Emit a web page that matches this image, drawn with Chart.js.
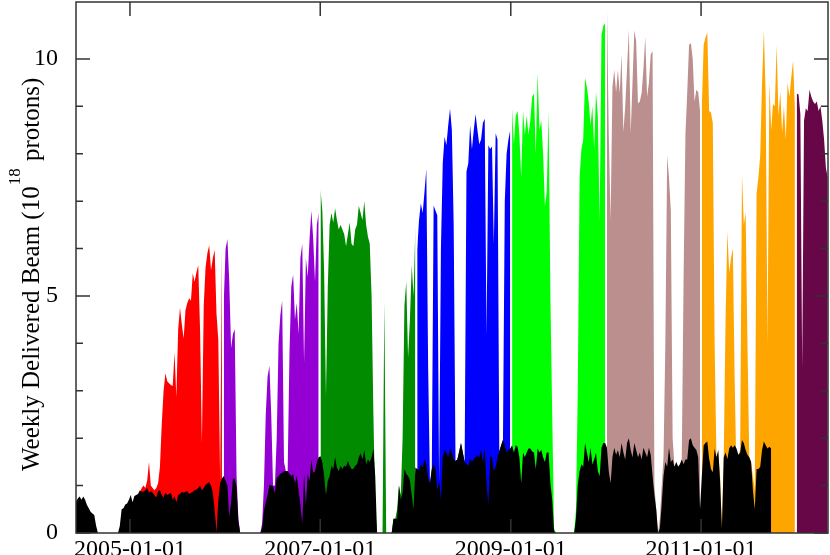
<!DOCTYPE html>
<html>
<head>
<meta charset="utf-8">
<title>Weekly Delivered Beam</title>
<script src="https://cdn.jsdelivr.net/npm/chart.js@4.4.1/dist/chart.umd.min.js"></script>
<style>
  html, body { margin: 0; padding: 0; background: #fff; }
  #chart { display: block; }
</style>
</head>
<body>
<canvas id="chart" width="830" height="555"></canvas>
<script>
// weekly series, week 0 = firstWeek
const firstWeek = '2004-06-08';
const axisStart = '2004-06-08';
const axisEnd = '2012-05-02';
const xTickLabels = ['2005-01-01', '2007-01-01', '2009-01-01', '2011-01-01'];
const yTickLabels = [0, 5, 10];

// black series (weeks 0..381)
const beamBlack = [
  0.66, 0.73, 0.77, 0.7, 0.77, 0.7, 0.59, 0.52, 0.45, 0.41, 0.38, 0.16,
  0, 0, 0, 0, 0, 0, 0, 0, 0, 0, 0, 0,
  0.15, 0.5, 0.52, 0.6, 0.62, 0.7, 0.8, 0.65, 0.78, 0.8, 0.82, 0.9,
  0.87, 0.87, 0.9, 0.95, 0.85, 0.88, 0.85, 0.8, 0.75, 0.88, 0.9, 0.8,
  0.75, 0.85, 0.8, 0.82, 0.85, 0.7, 0.78, 0.65, 0.8, 0.82, 0.87, 0.85,
  0.87, 0.88, 0.82, 0.85, 0.87, 0.9, 0.92, 0.95, 1.0, 0.9, 0.95, 1.02,
  1.05, 1.07, 1.0, 0.85, 0.5, 0.02, 0.7, 1.05, 1.15, 1.2, 1.1, 1.0,
  0.35, 0.65, 1.15, 1.15, 0.95, 0.25,
  0, 0, 0, 0, 0, 0, 0, 0, 0, 0, 0, 0,
  0.1, 0.47, 0.65, 0.8, 1.02, 1.0, 0.98, 0.84, 1.16, 1.2, 1.25, 1.27,
  1.3, 1.31, 1.3, 1.25, 1.2, 1.24, 1.05, 1.2, 0.9, 0.6, 0.2, 1.24,
  0.6, 1.24, 1.1, 1.55, 1.27, 1.3, 1.5, 1.6,
  1.62, 1.5, 1.2, 0.8, 1.1, 1.2, 1.42, 1.35, 1.6, 1.38, 1.3, 1.42,
  1.35, 1.42, 1.4, 1.52, 1.42, 1.35, 1.35, 1.42, 1.45, 1.6, 1.68, 1.55,
  1.75, 1.45, 1.55, 1.5, 1.6, 1.78, 1.2, 0,
  0, 0, 0, 0, 0, 0, 0, 0,
  0.3, 0.3, 0.3, 1.0, 0.7, 0.85, 1.35, 1.25, 1.2, 1.12, 0.8, 0.5,
  1.38, 1.35, 1.33, 1.45, 1.38, 1.55, 1.45, 1.15, 1.05, 1.35, 1.45, 1.35,
  0.9, 1.1, 0.7, 1.6, 1.75, 1.7, 1.6, 1.78, 1.7, 1.55, 1.52, 1.55,
  1.72, 1.9, 1.7, 1.5, 1.45, 1.42, 1.56, 1.5, 1.56, 1.6, 1.64, 1.6,
  1.75, 1.5, 1.82, 1.05, 0.6, 1.62, 1.6, 1.3, 1.4, 1.6, 1.72, 1.85,
  1.96, 1.85, 1.7, 1.75, 1.78, 1.85, 1.7, 1.85, 1.82, 1.6, 1.05, 1.7,
  1.6, 1.7, 1.78, 1.78, 1.72, 1.7, 1.35, 1.78, 1.7, 1.75, 1.6, 1.5,
  1.7, 1.7, 1.05, 0.7, 0.05,
  0, 0, 0, 0, 0, 0, 0, 0, 0, 0, 0,
  0.3, 1.0, 1.3, 1.45, 1.4, 1.9, 1.7, 1.5, 1.8, 1.45, 1.55, 1.7,
  1.3, 1.2, 1.8, 1.9, 1.9, 1.8, 1.3, 1.05, 1.6, 1.8, 1.65, 1.75,
  1.6, 1.9, 1.7, 1.55, 1.9, 2.0, 1.75, 1.6, 1.9, 1.75, 1.6, 1.7,
  1.55, 1.8, 1.7, 1.6, 1.8, 1.65, 1.2, 0.8, 0.5, 0, 0.1, 0.6,
  1.2, 1.5, 1.4, 1.8, 1.5, 1.55, 1.4, 1.5, 1.4, 1.45, 1.55, 1.45,
  1.55, 1.55, 1.96, 2.0, 1.85, 1.8, 1.75, 1.6, 0.5, 1.2, 1.85, 1.9,
  1.93, 1.57, 1.35, 1.28, 1.78, 1.6, 1.75, 1.1, 0.1, 1.6, 1.7, 1.56,
  1.78, 1.85, 1.8, 1.85, 1.78, 1.65, 1.7, 1.96, 1.9, 1.75, 1.65, 1.6,
  1.5, 0.9, 0.5, 1.35, 1.35, 1.4, 1.75, 1.93, 1.85, 1.78, 1.82, 1.78
];

// total per run (one colour per run)
const run2005 = [
  0.7, 0.6, 0.75, 0.78, 0.8, 0.85,
  0.95, 1.0, 0.95, 1.1, 1.5, 1.0, 0.95, 0.9, 0.95, 1.05, 1.4, 2.3,
  3.0, 3.37, 3.2, 3.16, 3.12, 3.1, 3.8, 2.87, 4.3, 4.75, 4.4, 4.1,
  4.7, 4.85, 4.95, 4.9, 5.48, 5.3, 5.5, 5.65, 4.28, 1.9, 4.8, 5.6,
  5.9, 6.07, 5.54, 5.8, 5.97, 4.63, 4.07, 1.1, 6.04
];
const run2006 = [
  4.9, 6.0, 6.2, 5.3, 3.9, 4.2, 4.3, 1.2, 0.3,
  0, 0, 0, 0, 0, 0, 0, 0, 0, 0, 0, 0,
  0.2, 1.0, 2.5, 3.3, 3.53, 2.5, 1.0, 1.0, 2.0, 4.0, 4.6, 4.9,
  1.5, 1.31, 1.3, 3.8, 5.2, 5.45, 4.5, 4.85, 4.2, 5.8, 6.1, 3.6,
  5.8, 5.4, 6.2, 6.8, 6.2, 5.3, 6.5, 6.76
];
const run2007 = [
  7.24, 6.8, 5.5, 2.9, 5.2, 6.5, 6.75, 6.55, 6.85, 6.6, 6.4, 6.5,
  6.4, 6.3, 6.05, 6.3, 6.55, 6.1, 6.05, 6.4, 6.5, 6.9, 6.75, 6.6,
  7.0, 6.5, 6.25, 6.1, 5.0, 2.5, 0.5, 0,
  0, 0, 0, 4.87, 0, 0, 0, 0,
  0.3, 0.3, 0.5, 1.0, 0.8, 2.0, 4.8, 5.3, 3.7, 4.5, 5.65, 5.0, 6.49
];
const run2008 = [
  5.97, 6.6, 6.95, 6.75, 7.2, 7.67, 3.5, 1.05, 1.35, 6.91, 6.8, 6.7,
  1.1, 6.0, 7.8, 8.36, 8.18, 8.6, 8.95, 8.5, 6.5, 1.52, 1.55, 1.72,
  1.9, 1.7, 1.5, 7.62, 7.8, 8.6, 8.1, 8.5, 8.84, 8.5, 8.2, 8.3,
  8.65, 8.74, 4.17, 8.18, 8.1, 8.15, 6.1, 8.43, 8.3, 1.72, 1.85, 1.96,
  7.0, 8.0, 8.3, 8.5
];
const run2009 = [
  8.96, 8.2, 8.8, 8.9, 8.4, 7.5, 8.9, 8.4, 8.8, 8.4, 8.7, 9.2,
  9.27, 8.0, 9.7, 8.5, 8.7, 8.0, 6.9, 7.2, 8.9, 5.0, 2.5, 0.1,
  0, 0, 0, 0, 0, 0, 0, 0, 0, 0, 0, 0.5,
  3.0, 7.5, 8.1, 8.3, 9.6, 9.4, 9.1, 8.6, 9.0, 8.1, 9.3, 8.8,
  6.6, 10.5, 10.7, 10.75
];
const run2010 = [
  11.07, 8.4, 6.6, 9.4, 9.77, 9.3, 9.77, 9.28, 10.1, 8.46, 9.0, 9.8,
  10.62, 8.43, 9.5, 10.6, 10.38, 9.06, 9.1, 9.28, 9.8, 10.46, 9.2, 9.5,
  10.1, 10.16, 1.0, 0.5, 0, 0.3, 1.0, 1.6, 4.0, 7.96, 7.5, 6.8,
  2.0, 1.4, 1.5, 1.4, 1.45, 1.55, 5.4, 8.4, 9.3, 10.3, 10.33, 10.0,
  9.1, 9.35, 9.3, 8.9
];
const run2011 = [
  9.0, 10.3, 10.45, 10.55, 8.9, 8.87, 8.65, 4.0, 1.6, 1.7, 1.2, 0.1,
  1.6, 4.5, 6.36, 5.5, 5.8, 6.0, 3.2, 1.2, 1.6, 1.75, 7.56, 6.5,
  6.76, 4.0, 1.6, 1.5, 1.2, 0.9, 7.16, 7.5, 7.96, 9.5, 10.6, 9.2,
  4.0, 9.5, 8.5, 9.05, 9.0, 10.29, 8.8, 9.3, 8.45, 9.0, 8.3, 9.5,
  9.2, 9.6, 9.96, 9.0
];
const run2012 = [
  9.27, 9.25, 8.84, 3.5, 8.7, 8.96, 8.9, 9.35, 9.2, 9.1, 9.05, 9.1,
  8.9, 9.0, 8.7, 8.3, 7.7, 7.5
];

const runSeries = [run2005, run2006, run2007, run2008, run2009, run2010, run2011, run2012];
const runStartWeek = [30, 81, 134, 187, 239, 291, 343, 395];
const runColors = ['#ff0000', '#9400d3', '#008b00', '#0000ff', '#00ff00', '#bc8f8f', '#ffa500', '#670748'];

const dayOf = s => (Date.parse(s) - Date.parse('2005-01-01')) / 864e5;
const week0 = dayOf(firstWeek);
const toPoints = (vals, start) => vals.map((v, i) => ({ x: week0 + 7 * (start + i), y: v }));
const xTickDays = xTickLabels.map(dayOf);

const FONT = '"Liberation Serif", "Times New Roman", serif';

const datasets = [{
  label: 'black',
  data: toPoints(beamBlack, 0),
  backgroundColor: '#000000',
  fill: 'origin',
  borderWidth: 0,
  pointRadius: 0
}];
runSeries.forEach((vals, i) => {
  datasets.push({
    label: 'run ' + i,
    data: toPoints(vals, runStartWeek[i]),
    backgroundColor: runColors[i],
    fill: 'origin',
    borderWidth: 0,
    pointRadius: 0
  });
});

const framePlugin = {
  id: 'frame',
  afterDraw(chart) {
    const { ctx, chartArea: a, scales: { x, y } } = chart;
    ctx.save();
    ctx.strokeStyle = '#333';
    ctx.lineWidth = 1.5;
    ctx.strokeRect(a.left, a.top, a.right - a.left, a.bottom - a.top);
    ctx.beginPath();
    y.ticks.forEach(t => {
      if (!Number.isInteger(t.value)) return;
      const py = y.getPixelForValue(t.value);
      const len = t.value % 5 === 0 ? 14 : 7;
      ctx.moveTo(a.left, py); ctx.lineTo(a.left + len, py);
      ctx.moveTo(a.right, py); ctx.lineTo(a.right - len, py);
    });
    xTickDays.forEach(d => {
      const px = x.getPixelForValue(d);
      ctx.moveTo(px, a.bottom); ctx.lineTo(px, a.bottom - 14);
      ctx.moveTo(px, a.top); ctx.lineTo(px, a.top + 14);
    });
    ctx.stroke();

    // y title with superscript
    ctx.fillStyle = '#000';
    ctx.translate(39, 471);
    ctx.rotate(-Math.PI / 2);
    ctx.textBaseline = 'alphabetic';
    ctx.textAlign = 'left';
    let pos = 0;
    ctx.font = '25px ' + FONT;
    const part1 = 'Weekly Delivered Beam (10';
    ctx.fillText(part1, pos, 0);
    pos += ctx.measureText(part1).width;
    ctx.font = '17px ' + FONT;
    ctx.fillText('18', pos + 1, -19);
    pos += ctx.measureText('18').width + 2;
    ctx.font = '25px ' + FONT;
    ctx.fillText(' protons)', pos, 0);
    ctx.restore();
  }
};

new Chart(document.getElementById('chart'), {
  type: 'line',
  data: { datasets },
  options: {
    responsive: false,
    animation: false,
    devicePixelRatio: 1,
    layout: { padding: { top: 2, right: 2, left: 0, bottom: 0 } },
    plugins: { legend: { display: false }, tooltip: { enabled: false } },
    scales: {
      x: {
        type: 'linear',
        min: dayOf(axisStart),
        max: dayOf(axisEnd),
        grid: { display: false },
        border: { display: false },
        afterBuildTicks: axis => { axis.ticks = xTickDays.map(v => ({ value: v })); },
        afterFit: axis => { axis.height = 22; axis.paddingLeft = 0; axis.paddingRight = 0; },
        ticks: {
          autoSkip: false,
          maxRotation: 0,
          padding: -6,
          color: '#000',
          font: { family: FONT, size: 24 },
          callback: v => xTickLabels[xTickDays.indexOf(v)] || ''
        }
      },
      y: {
        min: 0,
        max: 11.2,
        grid: { display: false },
        border: { display: false },
        afterFit: axis => { axis.width = 76; axis.paddingTop = 0; axis.paddingBottom = 0; },
        ticks: {
          stepSize: 1,
          autoSkip: false,
          padding: 10,
          color: '#000',
          font: { family: FONT, size: 24 },
          callback: v => yTickLabels.includes(v) ? String(v) : ''
        }
      }
    }
  },
  plugins: [framePlugin]
});
</script>
</body>
</html>
